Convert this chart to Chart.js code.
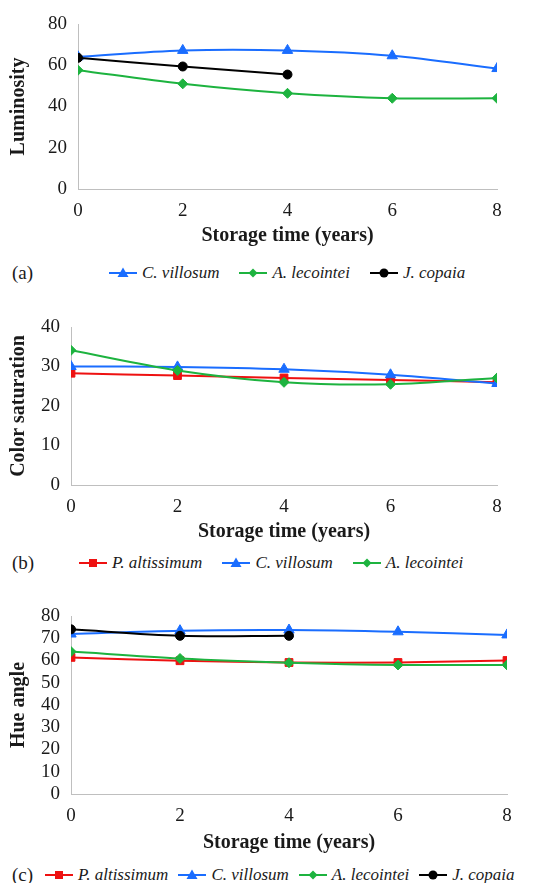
<!DOCTYPE html>
<html>
<head>
<meta charset="utf-8">
<script src="https://cdn.jsdelivr.net/npm/chart.js@4/dist/chart.umd.min.js"></script>
<style>
  html, body { margin: 0; padding: 0; background: #fff; }
  #page { position: relative; width: 553px; height: 883px; overflow: hidden;
          font-family: 'Liberation Serif', serif; color: #1a1a1a; }
  .wrap { position: absolute; left: 0; width: 553px; }
  .tag { position: absolute; left: 12px; font-size: 19px; line-height: 20px; }
  .legend { position: absolute; display: flex; align-items: center; font-size: 17px; font-style: italic;
            line-height: 20px; white-space: nowrap; }
  .legend .item { display: flex; align-items: center; }
  .legend svg { margin-right: 5px; }
</style>
</head>
<body>
<div id="page">
  <div class="wrap" style="top:1px;height:250px"><canvas id="chartA"></canvas></div>
  <div class="tag" style="top:263px">(a)</div>
  <div class="legend" id="legA" style="top:263px;left:109px;gap:20px"></div>

  <div class="wrap" style="top:302px;height:245px"><canvas id="chartB"></canvas></div>
  <div class="tag" style="top:553px">(b)</div>
  <div class="legend" id="legB" style="top:553px;left:79px;gap:20px"></div>

  <div class="wrap" style="top:592px;height:264px"><canvas id="chartC"></canvas></div>
  <div class="tag" style="top:865px">(c)</div>
  <div class="legend" id="legC" style="top:865px;left:45px;gap:10px"></div>
</div>
<script>
/* ---- data ---- */
const years = [0, 2, 4, 6, 8];

const lumVillosum = [64.1, 67.2, 67.2, 64.6, 58.4];
const lumLecointei = [57.6, 51.0, 46.4, 44.0, 44.0];
const lumCopaia = [63.6, 59.4, 55.5];

const satAltissimum = [28.3, 27.7, 27.1, 26.6, 26.0];
const satVillosum = [30.0, 29.9, 29.3, 27.9, 25.7];
const satLecointei = [34.1, 29.0, 26.0, 25.5, 27.1];

const hueAltissimum = [61.4, 59.9, 59.1, 59.1, 60.0];
const hueVillosum = [71.9, 73.4, 73.7, 72.9, 71.5];
const hueLecointei = [64.0, 60.9, 59.0, 58.0, 58.0];
const hueCopaia = [74.0, 71.1, 71.1];

/* ---- look ---- */
const SERIF = "'Liberation Serif', serif";
const INK = '#1a1a1a';
const AXIS = '#bfbfbf';
const SPECIES = {
    'P. altissimum': { color: '#ee1111', point: 'rect', r: 5.5 },
    'C. villosum': { color: '#1a6dff', point: 'triangle', r: 6 },
    'A. lecointei': { color: '#1db33f', point: 'rectRot', r: 5 },
    'J. copaia': { color: '#000000', point: 'circle', r: 4.5 }
};
Chart.defaults.font.family = SERIF;

function series(name, values) {
    const s = SPECIES[name];
    return {
        label: name,
        data: values.map((v, i) => ({ x: years[i], y: v })),
        borderColor: s.color, backgroundColor: s.color,
        borderWidth: 2, tension: 0.33,
        pointStyle: s.point, pointRadius: s.r, pointBorderWidth: 1,
        pointBackgroundColor: s.color, pointBorderColor: s.color
    };
}

function panel(id, list, yTitle, yMax, yStep, box) {
    // later series sit on top, as in the original
    const datasets = list.map(([name, vals], i) => Object.assign(series(name, vals), { order: list.length - i }));
    return new Chart(document.getElementById(id), {
        type: 'line',
        data: { datasets },
        options: {
            responsive: true, maintainAspectRatio: false, animation: false,
            layout: { padding: { top: box.top, right: box.right, left: 0, bottom: 0 } },
            plugins: { legend: { display: false }, tooltip: { enabled: false } },
            scales: {
                x: {
                    type: 'linear', min: 0, max: 8,
                    grid: { display: false, drawTicks: false },
                    border: { display: true, color: AXIS, width: 1 },
                    ticks: { stepSize: 2, padding: 11, color: INK, font: { family: SERIF, size: 19 } },
                    title: { display: true, text: 'Storage time (years)', color: INK,
                             padding: { top: 0, bottom: box.titleBottom },
                             font: { family: SERIF, size: 20, weight: 'bold' } },
                    afterFit: (s) => { s.height = 62; }
                },
                y: {
                    min: 0, max: yMax,
                    grid: { display: false, drawTicks: false },
                    border: { display: true, color: AXIS, width: 1 },
                    ticks: { stepSize: yStep, autoSkip: false, padding: 11, color: INK,
                             font: { family: SERIF, size: 19 } },
                    title: { display: true, text: yTitle, color: INK, padding: { top: 7, bottom: 0 },
                             font: { family: SERIF, size: 20, weight: 'bold' } },
                    afterFit: (s) => { s.width = box.left; }
                }
            }
        }
    });
}

function legend(id, names) {
    const el = document.getElementById(id);
    names.forEach((name) => {
        const s = SPECIES[name];
        let mark;
        if (s.point === 'rect') mark = `<rect x="10" y="3" width="8" height="8" fill="${s.color}"/>`;
        else if (s.point === 'triangle') mark = `<polygon points="14,1.5 19.5,11 8.5,11" fill="${s.color}"/>`;
        else if (s.point === 'rectRot') mark = `<polygon points="14,2.5 18.5,7 14,11.5 9.5,7" fill="${s.color}"/>`;
        else mark = `<circle cx="14" cy="7" r="4.5" fill="${s.color}"/>`;
        const item = document.createElement('div');
        item.className = 'item';
        item.innerHTML = `<svg width="28" height="14" viewBox="0 0 28 14"><line x1="0" y1="7" x2="28" y2="7" stroke="${s.color}" stroke-width="2"/>${mark}</svg><span>${name}</span>`;
        el.appendChild(item);
    });
}

panel('chartA', [['C. villosum', lumVillosum], ['A. lecointei', lumLecointei], ['J. copaia', lumCopaia]],
      'Luminosity', 80, 20, { top: 23, right: 56, left: 78, titleBottom: 3 });
panel('chartB', [['P. altissimum', satAltissimum], ['C. villosum', satVillosum], ['A. lecointei', satLecointei]],
      'Color saturation', 40, 10, { top: 25, right: 56, left: 71, titleBottom: 3 });
panel('chartC', [['P. altissimum', hueAltissimum], ['C. villosum', hueVillosum], ['A. lecointei', hueLecointei], ['J. copaia', hueCopaia]],
      'Hue angle', 80, 10, { top: 24, right: 46, left: 71, titleBottom: 1 });

legend('legA', ['C. villosum', 'A. lecointei', 'J. copaia']);
legend('legB', ['P. altissimum', 'C. villosum', 'A. lecointei']);
legend('legC', ['P. altissimum', 'C. villosum', 'A. lecointei', 'J. copaia']);
</script>
</body>
</html>
